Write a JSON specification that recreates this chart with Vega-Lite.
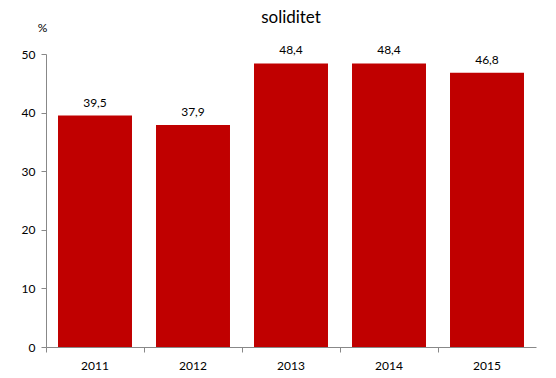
{
  "$schema": "https://vega.github.io/schema/vega-lite/v6.json",
  "width": 490,
  "height": 293,
  "autosize": {"type": "none"},
  "padding": {"left": 46, "top": 54, "right": 20, "bottom": 31},
  "background": "white",
  "config": {"view": {"stroke": null}, "font": "Lato"},
  "title": {"text": "soliditet", "fontSize": 17, "fontWeight": "normal", "font": "Lato", "color": "black", "anchor": "middle", "offset": -6},
  "data": {"values": [
    {"year": "2011", "value": 39.5, "label": "39,5"},
    {"year": "2012", "value": 37.9, "label": "37,9"},
    {"year": "2013", "value": 48.4, "label": "48,4"},
    {"year": "2014", "value": 48.4, "label": "48,4"},
    {"year": "2015", "value": 46.8, "label": "46,8"}
  ]},
  "encoding": {
    "x": {"field": "year", "type": "nominal", "scale": {"paddingInner": 0.245, "paddingOuter": 0.1225},
      "axis": {"title": null, "labelAngle": 0, "labelFontSize": 12, "labelColor": "black", "domainColor": "#888", "tickColor": "#888", "tickSize": 5, "labelPadding": 8, "bandPosition": -0.162, "grid": false}},
    "y": {"field": "value", "type": "quantitative", "scale": {"domain": [0, 50]},
      "axis": {"title": "%", "titleAngle": 0, "titleFontSize": 12, "titleFontWeight": "normal", "titleColor": "black", "titleX": -4, "titleY": -20, "titleAlign": "center", "values": [0, 10, 20, 30, 40, 50], "labelFontSize": 12, "labelColor": "black", "domainColor": "#888", "tickColor": "#888", "tickSize": 5, "labelPadding": 6, "grid": false}}
  },
  "layer": [
    {"mark": {"type": "bar", "color": "#C00000"}},
    {"mark": {"type": "text", "baseline": "bottom", "dy": -6, "fontSize": 12, "color": "black"},
      "encoding": {"text": {"field": "label"}}}
  ]
}
